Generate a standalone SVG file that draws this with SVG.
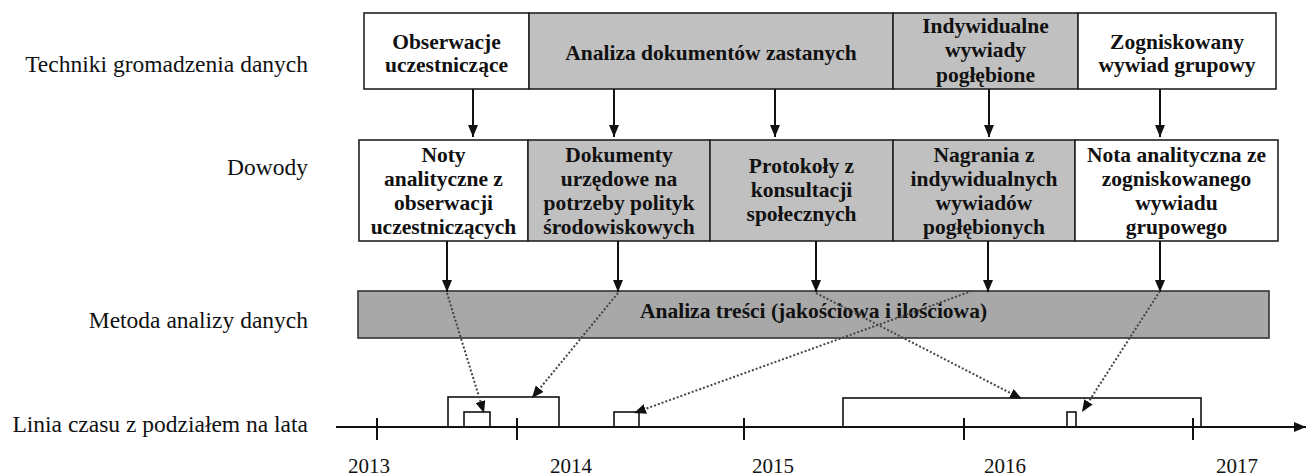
<svg xmlns="http://www.w3.org/2000/svg" width="1306" height="476" viewBox="0 0 1306 476">
<style>
.lbl{font-family:"Liberation Serif","Times New Roman",serif;font-size:23.5px;fill:#111}
.yr{font-family:"Liberation Serif","Times New Roman",serif;font-size:21px;fill:#111;text-anchor:middle}
.bt{font-family:"Liberation Serif","Times New Roman",serif;font-size:21.5px;font-weight:bold;fill:#111;text-anchor:middle}
.w{fill:#ffffff;stroke:#222;stroke-width:1.6}
.g{fill:#c0c0c0;stroke:#222;stroke-width:1.6}
.dg{fill:#a8a8a8;stroke:#333;stroke-width:1.6}
.tb{fill:none;stroke:#111;stroke-width:1.6}
.sol{stroke:#111;stroke-width:2;fill:none}
.dot{stroke:#444;stroke-width:2;fill:none;stroke-dasharray:2 2}
.ax{stroke:#111;stroke-width:2;fill:none}
</style>
<defs>
<marker id="ah" viewBox="0 0 12 10" refX="12" refY="5" markerWidth="12" markerHeight="10" markerUnits="userSpaceOnUse" orient="auto">
<path d="M0,0 L12,5 L0,10 z" fill="#111"/>
</marker>
</defs>
<rect width="1306" height="476" fill="#ffffff"/>

<g id="labels">
<text class="lbl" x="308" y="72" text-anchor="end">Techniki gromadzenia danych</text>
<text class="lbl" x="308" y="175" text-anchor="end">Dowody</text>
<text class="lbl" x="308" y="328" text-anchor="end">Metoda analizy danych</text>
<text class="lbl" x="308" y="432" text-anchor="end">Linia czasu z podziałem na lata</text>
</g>

<g id="t1"><rect class="w" x="364" y="13" width="165" height="76"/>
<text class="bt" x="446.5"><tspan x="446.5" y="49">Obserwacje</tspan><tspan x="446.5" y="72">uczestniczące</tspan></text></g>
<g id="t2"><rect class="g" x="529" y="13" width="364" height="76"/>
<text class="bt" x="711" y="60">Analiza dokumentów zastanych</text></g>
<g id="t3"><rect class="g" x="893" y="13" width="185" height="76"/>
<text class="bt"><tspan x="985.5" y="33">Indywidualne</tspan><tspan x="985.5" y="57">wywiady</tspan><tspan x="985.5" y="82">pogłębione</tspan></text></g>
<g id="t4"><rect class="w" x="1078" y="13" width="198" height="76"/>
<text class="bt"><tspan x="1177" y="49">Zogniskowany</tspan><tspan x="1177" y="72">wywiad grupowy</tspan></text></g>

<g id="d1"><rect class="w" x="359" y="140" width="169" height="101"/>
<text class="bt"><tspan x="443.5" y="162">Noty</tspan><tspan x="443.5" y="186">analityczne z</tspan><tspan x="443.5" y="210">obserwacji</tspan><tspan x="443.5" y="234">uczestniczących</tspan></text></g>
<g id="d2"><rect class="g" x="528" y="140" width="182" height="101"/>
<text class="bt"><tspan x="619" y="162">Dokumenty</tspan><tspan x="619" y="186">urzędowe na</tspan><tspan x="619" y="210">potrzeby polityk</tspan><tspan x="619" y="234">środowiskowych</tspan></text></g>
<g id="d3"><rect class="g" x="710" y="140" width="183" height="101"/>
<text class="bt"><tspan x="801.5" y="173">Protokoły z</tspan><tspan x="801.5" y="197">konsultacji</tspan><tspan x="801.5" y="221">społecznych</tspan></text></g>
<g id="d4"><rect class="g" x="893" y="140" width="182" height="101"/>
<text class="bt"><tspan x="984" y="162">Nagrania z</tspan><tspan x="984" y="186">indywidualnych</tspan><tspan x="984" y="210">wywiadów</tspan><tspan x="984" y="234">pogłębionych</tspan></text></g>
<g id="d5"><rect class="w" x="1075" y="140" width="203" height="101"/>
<text class="bt"><tspan x="1176.5" y="162">Nota analityczna ze</tspan><tspan x="1176.5" y="186">zogniskowanego</tspan><tspan x="1176.5" y="210">wywiadu</tspan><tspan x="1176.5" y="234">grupowego</tspan></text></g>

<g id="m1"><rect class="dg" x="358" y="291" width="911" height="47"/>
<text class="bt" x="813.5" y="318">Analiza treści (jakościowa i ilościowa)</text></g>

<g id="timeline">
<line class="ax" x1="336" y1="427" x2="1306" y2="427" marker-end="url(#ah)"/>
<line class="ax" x1="377" y1="418" x2="377" y2="440"/>
<line class="ax" x1="517" y1="418" x2="517" y2="440"/>
<line class="ax" x1="744" y1="418" x2="744" y2="440"/>
<line class="ax" x1="964" y1="418" x2="964" y2="440"/>
<line class="ax" x1="1193" y1="418" x2="1193" y2="440"/>
<text class="yr" x="369" y="473">2013</text>
<text class="yr" x="571" y="473">2014</text>
<text class="yr" x="773" y="473">2015</text>
<text class="yr" x="1005" y="473">2016</text>
<text class="yr" x="1237" y="473">2017</text>
</g>
<g id="p1"><rect class="tb" x="448" y="397" width="111" height="30"/></g>
<g id="p2"><rect class="tb" x="464" y="412" width="26" height="15"/></g>
<g id="p3"><rect class="tb" x="614" y="412" width="25" height="15"/></g>
<g id="p4"><rect class="tb" x="843" y="398" width="358" height="29"/></g>
<g id="p5"><rect class="tb" x="1067" y="412" width="9" height="15"/></g>

<g id="connectors">
<line class="sol" x1="473" y1="89" x2="473" y2="137" marker-end="url(#ah)"/>
<line class="sol" x1="614" y1="89" x2="614" y2="137" marker-end="url(#ah)"/>
<line class="sol" x1="775" y1="89" x2="775" y2="137" marker-end="url(#ah)"/>
<line class="sol" x1="989" y1="89" x2="989" y2="137" marker-end="url(#ah)"/>
<line class="sol" x1="1160" y1="89" x2="1160" y2="137" marker-end="url(#ah)"/>
<line class="sol" x1="447" y1="241" x2="447" y2="292" marker-end="url(#ah)"/>
<line class="sol" x1="618" y1="241" x2="618" y2="292" marker-end="url(#ah)"/>
<line class="sol" x1="816" y1="241" x2="816" y2="292" marker-end="url(#ah)"/>
<line class="sol" x1="988" y1="241" x2="988" y2="292" marker-end="url(#ah)"/>
<line class="sol" x1="1160" y1="241" x2="1160" y2="292" marker-end="url(#ah)"/>
<line class="dot" x1="447" y1="293" x2="484" y2="413" marker-end="url(#ah)"/>
<line class="dot" x1="618" y1="293" x2="532" y2="398" marker-end="url(#ah)"/>
<line class="dot" x1="972" y1="291" x2="634" y2="413" marker-end="url(#ah)"/>
<line class="dot" x1="816" y1="293" x2="1022" y2="399" marker-end="url(#ah)"/>
<line class="dot" x1="1160" y1="291" x2="1082" y2="412" marker-end="url(#ah)"/>
</g>
</svg>
